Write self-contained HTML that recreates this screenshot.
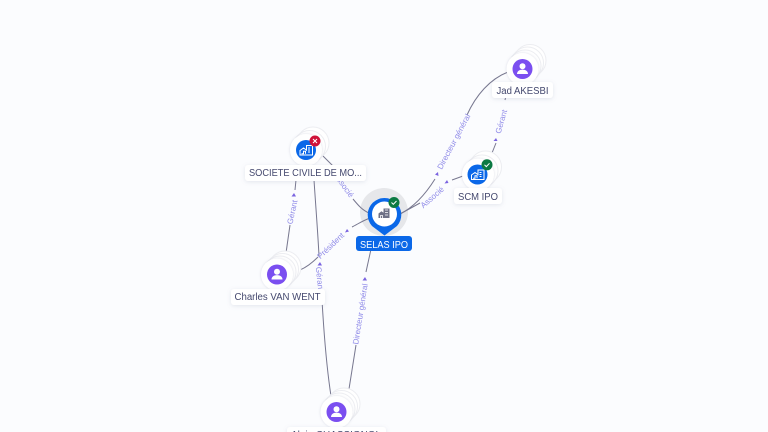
<!DOCTYPE html>
<html><head><meta charset="utf-8"><style>
html,body{margin:0;padding:0;width:768px;height:432px;overflow:hidden;background:#fbfcfe}
svg{display:block}
text{font-family:"Liberation Sans",sans-serif}
.e{fill:none;stroke:#77778f;stroke-width:1}
.l{font-size:8px;fill:#8f8ae8;text-anchor:middle}
.a{fill:#7a63e0}
.n{font-size:10px;fill:#44486e;text-anchor:middle}
.b{fill:#fff;filter:url(#s)}
.c{fill:#fff;stroke:#ecedf1;stroke-width:1}
.m{fill:#fff;filter:url(#s2)}
</style></head><body>
<svg width="768" height="432" viewBox="0 0 768 432" xmlns="http://www.w3.org/2000/svg">
<defs>
<filter id="s" x="-20%" y="-50%" width="140%" height="200%"><feDropShadow dx="0" dy="1" stdDeviation="2" flood-color="#8088a8" flood-opacity=".2"/></filter>
<filter id="s2" x="-30%" y="-30%" width="160%" height="160%"><feDropShadow dx="0" dy="0" stdDeviation="1.2" flood-color="#8088a8" flood-opacity=".3"/></filter>
<g id="person"><circle r="10" fill="#7b4ff0"/><circle cy="-2.800" r="3" fill="#fff"/><path d="M-5.500 5c0-3 2.500-4.400 5.500-4.400S5.500 2 5.500 5z" fill="#fff"/></g>
<g id="co"><circle r="10" fill="#0b68e8"/><path d="M-6 5v-4.500l3.500-2.500 3 2.200v-4.700h6v9.500zM-4.500 3.800h2v-2.500h2v2.500M2 -2h2M2 0h2M2 2h2" fill="none" stroke="#fff" stroke-width="1"/></g>
<g id="ok"><circle r="5.500" fill="#0c7a43"/><path d="M-2.500 0l1.800 1.800 3.200-3.300" fill="none" stroke="#fff" stroke-width="1"/></g>
<g id="ko"><circle r="5.500" fill="#cf1239"/><path d="M-2 -2l4 4M2 -2l-4 4" fill="none" stroke="#fff" stroke-width="1"/></g>
</defs>

<!-- SELAS halo under the edges -->
<circle cx="384" cy="212" r="24" fill="#e6e7ea"/>

<!-- Edges -->
<path class="e" d="M508 72C490 79 476 95 467 115"/>
<path class="e" d="M435 179C425 195 414 207 400 214"/>
<path class="e" d="M509 83L505 100"/>
<path class="e" d="M496 143L492 153"/>
<path class="e" d="M463 176L452 180"/>
<path class="e" d="M420 203L400 214"/>
<path class="e" d="M322 155L334 167"/>
<path class="e" d="M353 199C358 205 362 210 369 213"/>
<path class="e" d="M296 180L295 190"/>
<path class="e" d="M290 225L286 253"/>
<path class="e" d="M314 180C316 210 318 235 319 256"/>
<path class="e" d="M322 300C324 335 327 370 331 396"/>
<path class="e" d="M300 270C307 267 312 263 318 257"/>
<path class="e" d="M352 227C358 224 362 221 370 218"/>
<path class="e" d="M349 389L356 345"/>
<path class="e" d="M366 272L373 240"/>

<!-- Edge labels -->
<text class="l" dy="3" transform="translate(453.500 141.500) rotate(-62)">Directeur général</text>
<path class="a" d="M438 172l-3 2.500 3.500 1.500z"/>
<text class="l" dy="3" transform="translate(501 121.500) rotate(-74)">Gérant</text>
<path class="a" d="M496 138l-2.500 3h4z"/>
<text class="l" dy="3" transform="translate(432 197) rotate(-41)">Associé</text>
<path class="a" d="M447 180l-2.500 3.500 4-.5z"/>
<text class="l" dy="3" transform="translate(344 185) rotate(54)">Associé</text>
<text class="l" dy="3" transform="translate(292 212) rotate(-78)">Gérant</text>
<path class="a" d="M294 193l-2.500 3.500h4.500z"/>
<text class="l" dy="3" transform="translate(320 279) rotate(84)">Gérant</text>
<path class="a" d="M320 262l-2.500 3.500h4.500z"/>
<text class="l" dy="3" transform="translate(330.500 245.500) rotate(-44)">Président</text>
<path class="a" d="M347 229l-2 3.500 4-1z"/>
<text class="l" dy="3" transform="translate(360 314) rotate(-81)">Directeur général</text>
<path class="a" d="M365 277l-2.500 3.500h4.500z"/>

<!-- Jad -->
<circle class="c" cx="530" cy="60.500" r="16"/><circle class="c" cx="527.500" cy="63" r="16"/><circle class="c" cx="525" cy="66" r="16"/>
<circle class="m" cx="522.500" cy="69" r="16"/><use href="#person" x="522.500" y="69"/>
<rect class="b" x="492" y="82" width="61" height="16" rx="3"/><text class="n" x="522.500" y="94" textLength="52" lengthAdjust="spacingAndGlyphs">Jad AKESBI</text>

<!-- SCM -->
<circle class="c" cx="485.500" cy="167" r="16"/><circle class="c" cx="482" cy="171" r="16"/>
<circle class="m" cx="478" cy="174.500" r="16"/><use href="#co" x="477.500" y="174.500"/><use href="#ok" x="487" y="164.800"/>
<rect class="b" x="454" y="188" width="48" height="16" rx="3"/><text class="n" x="478" y="200" textLength="40" lengthAdjust="spacingAndGlyphs">SCM IPO</text>

<!-- SOCIETE -->
<circle class="c" cx="313" cy="143" r="16"/><circle class="c" cx="309.500" cy="146.500" r="16"/>
<circle class="m" cx="306" cy="150" r="16"/><use href="#co" x="306" y="150"/><use href="#ko" x="315" y="141"/>
<rect class="b" x="245" y="165" width="121" height="16" rx="3"/><text class="n" x="305.500" y="176" textLength="113" lengthAdjust="spacingAndGlyphs">SOCIETE CIVILE DE MO...</text>

<!-- Charles -->
<circle class="c" cx="285" cy="267" r="16"/><circle class="c" cx="282.500" cy="269.500" r="16"/><circle class="c" cx="280" cy="272" r="16"/>
<circle class="m" cx="277" cy="274.500" r="16"/><use href="#person" x="277" y="274.500"/>
<rect class="b" x="231" y="289" width="94" height="16" rx="3"/><text class="n" x="277.500" y="300" textLength="86" lengthAdjust="spacingAndGlyphs">Charles VAN WENT</text>

<!-- Alain -->
<circle class="c" cx="344" cy="404" r="16"/><circle class="c" cx="341.500" cy="406.500" r="16"/><circle class="c" cx="339" cy="409" r="16"/>
<circle class="m" cx="336.500" cy="412" r="16"/><use href="#person" x="336.500" y="412"/>
<rect class="b" x="287" y="427" width="99" height="16" rx="3"/><text class="n" x="336" y="438" textLength="90" lengthAdjust="spacingAndGlyphs">Alain CHASSIGNOL</text>

<!-- SELAS -->
<path d="M384.500 235.500L372 226A16.800 16.800 0 1 1 397 226Z" fill="#0b68e8"/>
<circle cx="384.500" cy="214" r="12.500" fill="#fff"/>
<path d="M378.500 218v-4.500l3-2.200 2 1.500v-4.300h6v9.500z" fill="#6e7186"/>
<path d="M380.500 218v-2.500h2v2.500M385 210h3M385 212.500h3M385 215h3" stroke="#fff" stroke-width=".8" fill="none"/>
<use href="#ok" x="394" y="202.500"/>
<rect x="356" y="236" width="56" height="15" rx="3" fill="#0b68e8"/>
<text x="384" y="248" font-size="10" fill="#fff" text-anchor="middle" textLength="48" lengthAdjust="spacingAndGlyphs">SELAS IPO</text>
</svg>
</body></html>
